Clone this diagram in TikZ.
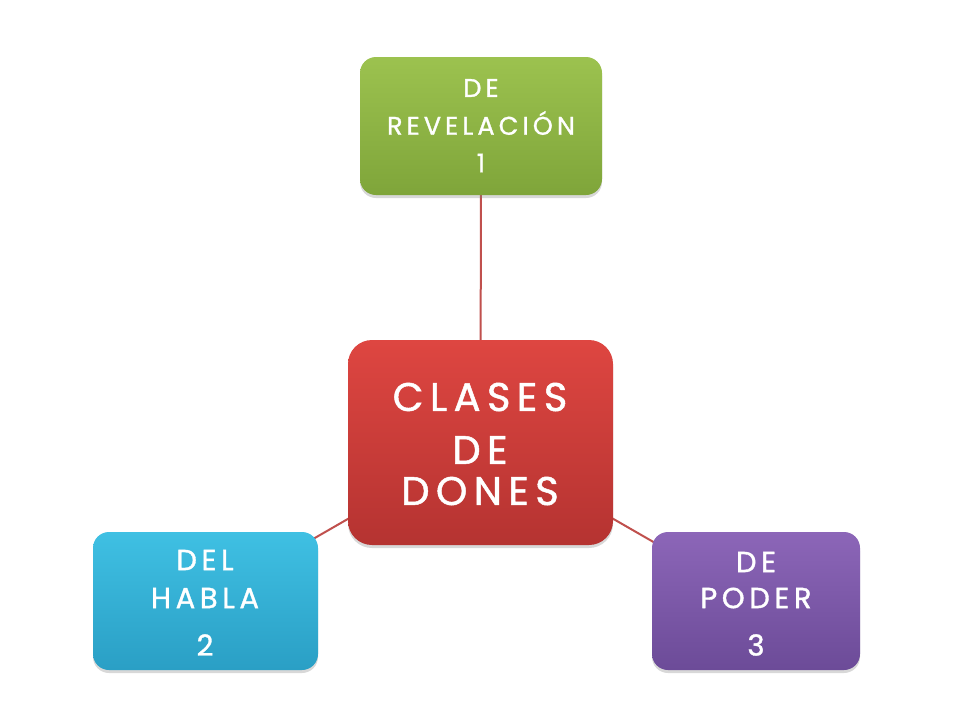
\documentclass[tikz,border=0pt]{standalone}
\usepackage{fontspec}
\newfontfamily\hand[LetterSpace=16,FakeBold=1.2]{Poppins}
\usetikzlibrary{shadows,backgrounds}
\definecolor{gtop}{HTML}{9CC24F}
\definecolor{gbot}{HTML}{7FA53A}
\definecolor{rtop}{HTML}{DE4641}
\definecolor{rbot}{HTML}{B53331}
\definecolor{btop}{HTML}{3FC0E3}
\definecolor{bbot}{HTML}{2A9FC5}
\definecolor{ptop}{HTML}{8C66B8}
\definecolor{pbot}{HTML}{6C4B98}
\definecolor{linkc}{HTML}{C0504D}
\begin{document}
\begin{tikzpicture}[x=1pt,y=-1pt,
  box/.style={rectangle, rounded corners=16pt, draw=none, inner sep=0pt,
    drop shadow={opacity=0.3, shadow xshift=0pt, shadow yshift=-3pt}},
  lbl/.style={text=white, inner sep=0pt, anchor=center},
  link/.style={draw=linkc, line width=2pt}]
\useasboundingbox (0,0) rectangle (960,720);
\node[box, minimum width=242pt, minimum height=138pt, top color=gtop, bottom color=gbot] (green) at (481,126) {};
\node[box, rounded corners=24pt, minimum width=265pt, minimum height=205pt, top color=rtop, bottom color=rbot] (red) at (480.5,442.5) {};
\node[box, minimum width=225pt, minimum height=138pt, top color=btop, bottom color=bbot] (blue) at (205.5,601) {};
\node[box, minimum width=208pt, minimum height=138pt, top color=ptop, bottom color=pbot] (purple) at (756,601) {};
\begin{scope}[on background layer]
\fill[white] (0,0) rectangle (960,720);
\draw[link] (green.center) -- (red.center);
\draw[link] (red.center) -- (blue.center);
\draw[link] (red.center) -- (purple.center);
\end{scope}
% green text
\node[lbl, font=\hand\fontsize{25.5}{28}\selectfont] (g1) at (481,88) {DE};
\node[lbl, font=\hand\fontsize{25.5}{28}\selectfont] (g2) at (481,123) {REVELACIÓN};
\node[lbl, font=\hand\fontsize{25.5}{28}\selectfont] (g3) at (481,163) {1};
% red text
\node[lbl, font=\hand\fontsize{40}{46}\selectfont] (r1) at (480,397) {CLASES};
\node[lbl, font=\hand\fontsize{40}{46}\selectfont] (r2) at (480,450) {DE};
\node[lbl, font=\hand\fontsize{40}{46}\selectfont] (r3) at (480,491) {DONES};
% blue text
\node[lbl, font=\hand\fontsize{29}{33}\selectfont] (b1) at (205,560) {DEL};
\node[lbl, font=\hand\fontsize{29}{33}\selectfont] (b2) at (205,598) {HABLA};
\node[lbl, font=\hand\fontsize{29}{33}\selectfont] (b3) at (205,645) {2};
% purple text
\node[lbl, font=\hand\fontsize{29}{33}\selectfont] (p1) at (756,562) {DE};
\node[lbl, font=\hand\fontsize{29}{33}\selectfont] (p2) at (756,598) {PODER};
\node[lbl, font=\hand\fontsize{29}{33}\selectfont] (p3) at (756,645) {3};
\end{tikzpicture}
\end{document}
